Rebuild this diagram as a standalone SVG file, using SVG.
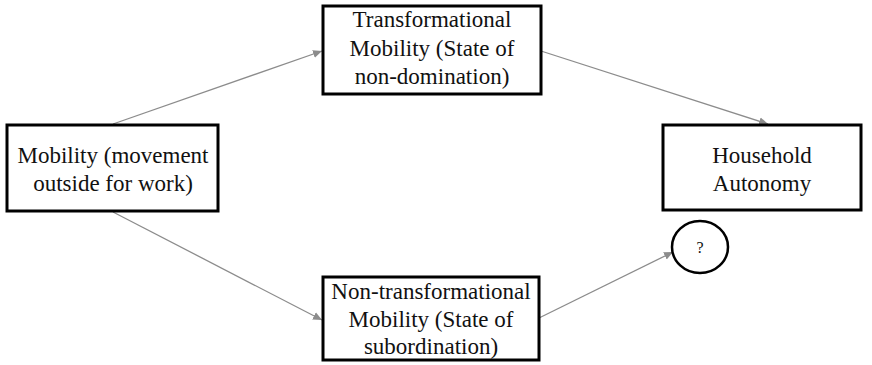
<svg xmlns="http://www.w3.org/2000/svg" width="872" height="365" viewBox="0 0 872 365">
<style>
.box{fill:#fff;stroke:#000;stroke-width:3}
.t{font-family:"Liberation Serif","Times New Roman",serif;font-size:23px;fill:#111;text-anchor:middle}
.c{stroke:#8c8c8c;stroke-width:1.3;fill:none;marker-end:url(#ah)}
</style>
<defs>
<marker id="ah" viewBox="0 0 10 10" refX="10" refY="5" markerWidth="9" markerHeight="9" markerUnits="userSpaceOnUse" orient="auto">
<path d="M0,0.5 L10,5 L0,9.5 Z" fill="#8c8c8c"/>
</marker>
</defs>
<g id="connectors">
<line class="c" x1="113" y1="124" x2="322" y2="51"/>
<line class="c" x1="541" y1="51" x2="768" y2="124"/>
<line class="c" x1="113" y1="212" x2="322" y2="320"/>
<line class="c" x1="539" y1="318" x2="673" y2="252"/>
</g>
<g id="mobility">
<rect class="box" x="7" y="125" width="211" height="86"/>
<text class="t" x="113" y="163">Mobility (movement</text>
<text class="t" x="113" y="191">outside for work)</text>
</g>
<g id="transformational">
<rect class="box" x="323" y="6" width="218" height="88"/>
<text class="t" x="432" y="27">Transformational</text>
<text class="t" x="432" y="56">Mobility (State of</text>
<text class="t" x="432" y="84">non-domination)</text>
</g>
<g id="nontransformational">
<rect class="box" x="323" y="277" width="216" height="83"/>
<text class="t" x="431" y="299">Non-transformational</text>
<text class="t" x="431" y="327">Mobility (State of</text>
<text class="t" x="431" y="354">subordination)</text>
</g>
<g id="household">
<rect class="box" x="663" y="125" width="198" height="85"/>
<text class="t" x="762" y="163">Household</text>
<text class="t" x="762" y="191">Autonomy</text>
</g>
<g id="question">
<ellipse cx="700" cy="247" rx="28" ry="26" fill="#fff" stroke="#000" stroke-width="2.5"/>
<text x="700" y="253" style="font-family:'Liberation Serif',serif;font-size:16px;text-anchor:middle;fill:#111">?</text>
</g>
</svg>
